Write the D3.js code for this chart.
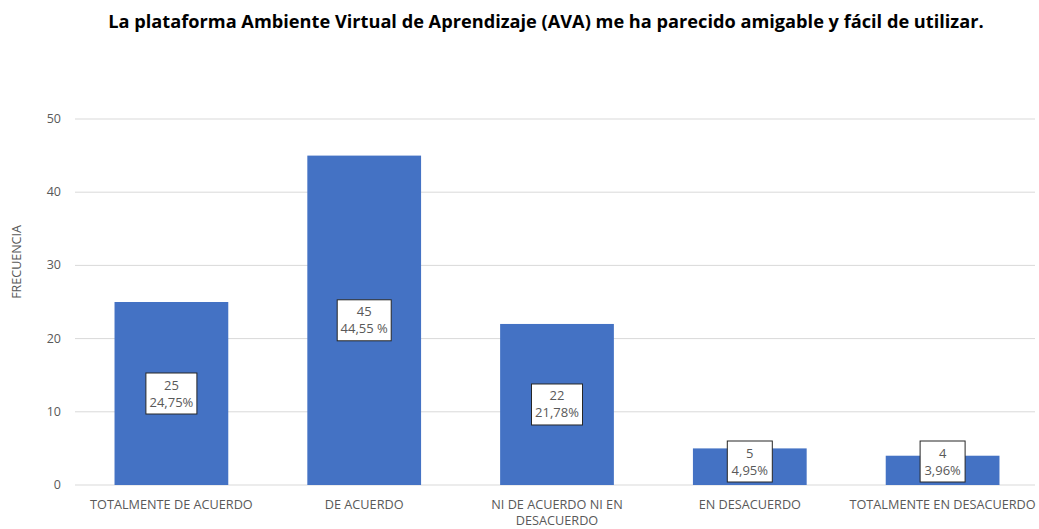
<!DOCTYPE html>
<meta charset="utf-8">
<style>
    body { margin: 0; background: #fff; }
    text { font-family: "Open Sans", "Noto Sans", sans-serif; }
</style>
<body>
<script src="https://cdn.jsdelivr.net/npm/d3@7"></script>
<script>
    var categories = ["TOTALMENTE DE ACUERDO", "DE ACUERDO", "NI DE ACUERDO NI EN DESACUERDO", "EN DESACUERDO", "TOTALMENTE EN DESACUERDO"];
    var values = [25, 45, 22, 5, 4];
    var percents = ["24,75%", "44,55 %", "21,78%", "4,95%", "3,96%"];
    var yTicks = [0, 10, 20, 30, 40, 50];

    var width = 1039, height = 529;
    var margin = {top: 119, right: 0, bottom: 44, left: 75};

    var svg = d3.select("body").append("svg")
        .attr("width", width)
        .attr("height", height);

    svg.append("text")
        .attr("x", 546)
        .attr("y", 28)
        .attr("text-anchor", "middle")
        .style("font-size", "18.2px")
        .style("font-weight", "bold")
        .style("fill", "#000")
        .text("La plataforma Ambiente Virtual de Aprendizaje (AVA) me ha parecido amigable y fácil de utilizar.");

    var x = d3.scaleBand()
        .domain(categories)
        .range([margin.left, width - margin.right])
        .paddingInner(0.41)
        .paddingOuter(0.205);

    var y = d3.scaleLinear()
        .domain([0, 50])
        .range([height - margin.bottom, margin.top]);

    // gridlines
    svg.append("g")
        .selectAll("line")
        .data(yTicks)
        .join("line")
        .attr("x1", margin.left)
        .attr("x2", 1035)
        .attr("y1", d => y(d))
        .attr("y2", d => y(d))
        .attr("stroke", "#d9d9d9")
        .attr("stroke-width", 1);

    svg.append("g")
        .selectAll("text")
        .data(yTicks)
        .join("text")
        .attr("x", 61)
        .attr("y", d => y(d) + 4)
        .attr("text-anchor", "end")
        .style("font-size", "12.5px")
        .style("fill", "#595959")
        .text(d => d);

    svg.append("text")
        .attr("transform", "translate(21," + 262 + ") rotate(-90)")
        .attr("text-anchor", "middle")
        .style("font-size", "12.5px")
        .style("fill", "#595959")
        .text("FRECUENCIA");

    // bars
    svg.append("g")
        .selectAll("rect")
        .data(values)
        .join("rect")
        .attr("x", (d, i) => x(categories[i]))
        .attr("y", d => y(d))
        .attr("width", x.bandwidth())
        .attr("height", d => y(0) - y(d))
        .attr("fill", "#4472C4");

    // x labels
    var xl = svg.append("g")
        .selectAll("text")
        .data(categories)
        .join("text")
        .attr("x", d => x(d) + x.bandwidth() / 2)
        .attr("y", 509)
        .attr("text-anchor", "middle")
        .style("font-size", "12.7px")
        .style("fill", "#595959");
    xl.each(function (d) {
        var lines = d === "NI DE ACUERDO NI EN DESACUERDO" ? ["NI DE ACUERDO NI EN", "DESACUERDO"] : [d];
        var t = d3.select(this);
        lines.forEach(function (l, k) {
            t.append("tspan")
                .attr("x", x(d) + x.bandwidth() / 2)
                .attr("dy", k ? 16 : 0)
                .text(l);
        });
    });

    // data labels
    var boxH = 41;
    var labels = svg.append("g")
        .selectAll("g")
        .data(values)
        .join("g")
        .attr("transform", function (d, i) {
            var cy = (y(d) + y(0)) / 2;
            cy = Math.min(cy, y(0) - 3 - boxH / 2);
            return "translate(" + (x(categories[i]) + x.bandwidth() / 2) + "," + cy + ")";
        });

    labels.each(function (d, i) {
        var g = d3.select(this);
        var bw = percents[i].length > 6 ? 54 : 51;
        if (percents[i].length < 6) bw = 45;
        g.append("rect")
            .attr("x", -bw / 2)
            .attr("y", -boxH / 2)
            .attr("width", bw)
            .attr("height", boxH)
            .attr("fill", "#fff")
            .attr("stroke", "#262626")
            .attr("stroke-width", 1);
        g.append("text")
            .attr("text-anchor", "middle")
            .attr("y", -4)
            .style("font-size", "13px")
            .style("fill", "#595959")
            .text(d);
        g.append("text")
            .attr("text-anchor", "middle")
            .attr("y", 13)
            .style("font-size", "13px")
            .style("fill", "#595959")
            .text(percents[i]);
    });
</script>
